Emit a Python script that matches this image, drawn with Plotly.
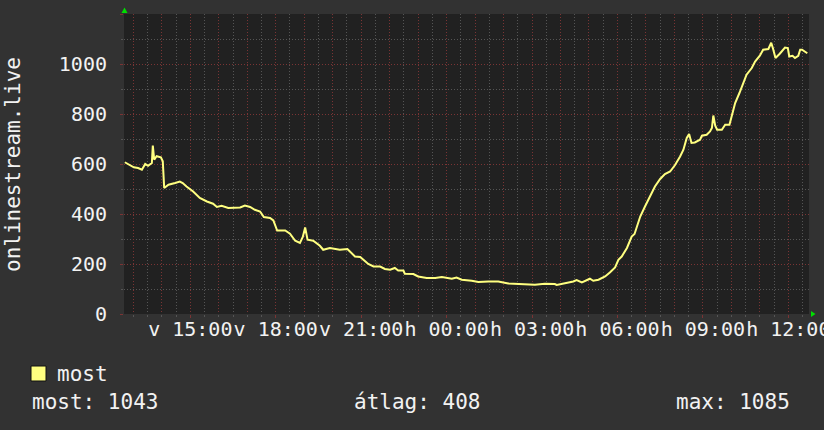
import plotly.graph_objects as go

# minutes since Sunday 12:00 (v = vasárnap, h = hétfő)
minutes = [42, 53, 61, 70, 78, 85, 91, 99, 101, 104, 109, 118, 122, 125, 134, 148, 158, 164, 172,
           186, 200, 215, 228, 236, 246, 260, 274, 285, 295, 306, 316, 327, 335, 348, 355, 363,
           380, 390, 401, 411, 417, 422, 427, 439, 453, 460, 474, 485, 495, 511, 518, 527, 538,
           545, 555, 566, 580, 590, 601, 611, 618, 629, 632, 650, 660, 678, 696, 710, 731, 741,
           752, 773, 787, 808, 829, 850, 878, 906, 927, 948, 952, 970, 987, 994, 1005, 1022,
           1029, 1040, 1054, 1064, 1075, 1082, 1089, 1100, 1110, 1116, 1128,
           1138, 1149, 1159, 1170, 1180, 1191, 1201, 1212, 1219, 1226, 1231, 1236, 1243, 1254,
           1258, 1268, 1275, 1279, 1282, 1286, 1290, 1300, 1307, 1316, 1321, 1328, 1337, 1345,
           1352, 1363, 1370, 1380, 1387, 1398, 1404, 1408, 1413, 1422, 1433, 1439, 1442, 1449,
           1454, 1461, 1465, 1469, 1475, 1480]
values = [607, 597, 587, 584, 577, 600, 593, 604, 674, 617, 631, 627, 611, 504, 517, 524, 530, 524, 510,
          490, 464, 450, 441, 428, 433, 424, 426, 426, 434, 428, 417, 410, 388, 384, 374, 334,
          334, 321, 293, 284, 308, 346, 297, 293, 273, 257, 264, 261, 257, 260, 246, 230, 228,
          217, 200, 190, 190, 180, 177, 184, 174, 174, 161, 160, 150, 144, 144, 148, 141, 146,
          137, 133, 128, 130, 130, 122, 121, 117, 121, 120, 116, 122, 130, 136, 126, 141,
          133, 137, 150, 166, 186, 217, 230, 264, 310, 320, 390,
          430, 470, 510, 540, 560, 570, 595, 630, 657, 704, 720, 684, 686, 697,
          713, 717, 730, 744, 794, 753, 737, 737, 757, 757, 797, 844, 884, 924,
          957, 984, 1010, 1033, 1057, 1060, 1085, 1060, 1024, 1041, 1066, 1064, 1030, 1033,
          1024, 1033, 1057, 1057, 1048, 1043]

label_minutes = [180, 360, 540, 720, 900, 1080, 1260, 1440]
label_texts = ["v 15:00", "v 18:00", "v 21:00", "h 00:00", "h 03:00", "h 06:00", "h 09:00", "h 12:00"]
y_labels = [0, 200, 400, 600, 800, 1000]
avg_value = 408
series_name = "most"
y_title = "onlinestream.live"

FONT = "DejaVu Sans Mono"
TXT = "#f2f2f2"
BG = "#323232"
PLOT_BG = "#212121"
MAJOR = "#7a3434"
MINOR = "#555555"
LINE = "#ffff80"

hour_vals = list(range(60, 1500, 60))
lab = dict(zip(label_minutes, label_texts))
hour_text = [lab.get(v, "") for v in hour_vals]
half_vals = list(range(30, 1500, 30))

fig = go.Figure()
fig.add_trace(go.Scatter(x=minutes, y=values, mode="lines",
                         line=dict(color=LINE, width=2), name=series_name, showlegend=False))

fig.update_layout(
    width=824, height=430,
    margin=dict(l=124, r=15, t=14, b=116),
    paper_bgcolor=BG, plot_bgcolor=PLOT_BG,
    font=dict(family=FONT, size=20, color=TXT),
    xaxis=dict(range=[40.3, 1483.6], tickmode="array", tickvals=hour_vals, ticktext=hour_text,
               tickangle=0, automargin=False, ticklabeloverflow="allow",
               showgrid=True, gridcolor=MAJOR, gridwidth=1, griddash="1px,2px",
               ticks="outside", ticklen=3, tickcolor=MAJOR, zeroline=False, showline=False,
               ticklabelstandoff=-6,
               minor=dict(tickmode="array", tickvals=half_vals, showgrid=True, gridcolor=MINOR,
                          griddash="1px,2px", ticks="outside", ticklen=2, tickcolor=MINOR),
               tickfont=dict(family=FONT, size=20, color=TXT)),
    yaxis=dict(range=[0, 1200], tickmode="array", tickvals=y_labels + [1200],
               ticktext=[str(v) for v in y_labels] + [""], automargin=False,
               ticklabeloverflow="allow",
               showgrid=True, gridcolor=MAJOR, gridwidth=1, griddash="1px,2px",
               ticks="outside", ticklen=3, tickcolor=MAJOR, zeroline=False, showline=False,
               ticklabelstandoff=9,
               minor=dict(tickmode="array", tickvals=list(range(100, 1200, 200)), showgrid=True,
                          gridcolor=MINOR, griddash="1px,2px", ticks="outside", ticklen=2,
                          tickcolor=MINOR),
               tickfont=dict(family=FONT, size=20, color=TXT)),
)

shapes = [
    # green axis arrows
    dict(type="path", xref="paper", yref="paper", xsizemode="pixel", ysizemode="pixel",
         xanchor=0, yanchor=1, path="M -2.5,1 L 3.5,1 L 0.5,6.5 Z",
         fillcolor="#00e000", line=dict(width=0)),
    dict(type="path", xref="paper", yref="paper", xsizemode="pixel", ysizemode="pixel",
         xanchor=1, yanchor=0, path="M 2,-3 L 2,3 L 6.5,0 Z",
         fillcolor="#00e000", line=dict(width=0)),
    # legend swatch
    dict(type="rect", xref="paper", yref="paper", xsizemode="pixel", ysizemode="pixel",
         xanchor=0, yanchor=0, x0=-93, x1=-78, y0=-52, y1=-67,
         fillcolor=LINE, line=dict(color="#101010", width=1)),
]
fig.update_layout(shapes=shapes)

def ann(text, px, py, anchor="left", angle=0):
    return dict(text=text, xref="paper", yref="paper", x=0, y=0, xanchor=anchor, yanchor="middle",
                xshift=px - 124, yshift=-(py - 314), showarrow=False, borderpad=0,
                textangle=angle, font=dict(family=FONT, size=21, color=TXT))

annotations = [
    ann(y_title, 13, 165, anchor="center", angle=-90),
    ann(series_name, 56, 374),
    ann(f"most: {values[-1]}", 31, 402),
    ann(f"átlag: {avg_value}", 353, 402),
    ann(f"max: {max(values)}", 675, 402),
]
fig.update_layout(annotations=annotations)

fig.write_html("out.html", config={"displayModeBar": False},
               post_script="document.body.style.margin='0';")
